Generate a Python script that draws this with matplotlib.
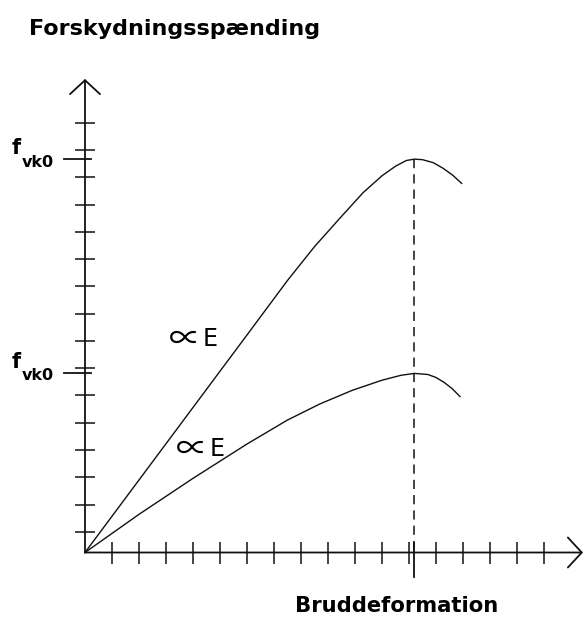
import numpy as np
import matplotlib
matplotlib.use("Agg")
import matplotlib.pyplot as plt

# Skematisk arbejdskurve: forskydningsspænding mod bruddeformation
strain_ticks = np.arange(1, 18)
stress_ticks = 0.76 + np.arange(16)

peak_strain = 12.2
f_vk0_high = 14.43
f_vk0_low = 6.59

upper_strain = [0, 2, 4, 6, 7.5, 8.5, 9.5, 10.3, 11.0, 11.5, 11.9, 12.2,
                12.5, 12.9, 13.27, 13.62, 13.95]
upper_stress = [0, 2.66, 5.32, 7.98, 9.98, 11.22, 12.33, 13.2, 13.82, 14.17,
                14.38, 14.43, 14.41, 14.3, 14.09, 13.84, 13.54]

lower_strain = [0, 2, 4, 6, 7.5, 8.7, 9.9, 11.0, 11.7, 12.2, 12.7, 13.0,
                13.3, 13.6, 13.89]
lower_stress = [0, 1.40, 2.72, 3.98, 4.86, 5.45, 5.95, 6.32, 6.50, 6.57,
                6.53, 6.42, 6.24, 6.01, 5.72]

W, H = 586, 618
fig = plt.figure(figsize=(W / 100, H / 100), dpi=100)
ax = fig.add_axes([0, 0, 1, 1])

# 1 enhed = en tickafstand (27 px vandret, 27.26 px lodret)
x0, y0 = 85, 552.5
ux, uy = 27.0, 27.26
ax.set_xlim(-x0 / ux, (W - x0) / ux)
ax.set_ylim(-(H - y0) / uy, y0 / uy)

for s in ax.spines.values():
    s.set_visible(False)
ax.spines["left"].set_position(("data", 0))
ax.spines["bottom"].set_position(("data", 0))

ax.set_xticks(strain_ticks)
ax.set_yticks(stress_ticks)
ax.tick_params(axis="x", direction="inout", length=16.5, width=1.1,
               color="#111111", labelbottom=False)
ax.tick_params(axis="y", direction="inout", length=14.4, width=1.1,
               color="#111111", labelleft=False)

# akser med åbne pilespidser
x_tip = (583 - x0) / ux
y_tip = (y0 - 79) / uy
arrow = dict(arrowstyle="->,head_length=1.0,head_width=1.08", lw=1.3,
             color="#111111", shrinkA=0, shrinkB=0, mutation_scale=10)
ax.annotate("", xy=(x_tip, 0), xytext=(0, 0), arrowprops=arrow)
ax.annotate("", xy=(0, y_tip), xytext=(0, 0), arrowprops=arrow)

# kurver
ax.plot(upper_strain, upper_stress, color="#111111", lw=1.0)
ax.plot(lower_strain, lower_stress, color="#111111", lw=1.0)

# brudlinje
ax.plot([peak_strain, peak_strain], [f_vk0_high, 0], color="#111111",
        lw=1.1, dashes=(6, 4))
ax.plot([peak_strain, peak_strain], [0.35, -0.9], color="#111111", lw=1.3)

# lange mærker for f_vk0
for f in (f_vk0_high, f_vk0_low):
    ax.plot([-0.78, 0.22], [f, f], color="#111111", lw=1.3)
    ax.text(-2.72, f + 5 / uy, "f", fontsize=15, fontweight="bold",
            ha="left", va="baseline")
    ax.text(-2.33, f - 7.5 / uy, "vk0", fontsize=11.5, fontweight="bold",
            ha="left", va="baseline")

# proportionalitet med E
for lx, ly in ((171, 346), (178, 456)):
    ax.text((lx - 2 - x0) / ux, (y0 - ly - 3) / uy, "\u221d", fontsize=23,
            family=["Noto Sans CJK JP", "DejaVu Sans"],
            ha="left", va="baseline")
    ax.text((lx + 32 - x0) / ux, (y0 - ly) / uy, "E", fontsize=17,
            ha="left", va="baseline")

fig.text(29 / W, 1 - 35 / H, "Forskydningsspænding", fontsize=16,
         fontweight="bold", ha="left", va="baseline")
fig.text(295 / W, 1 - 612 / H, "Bruddeformation", fontsize=15.2,
         fontweight="bold", ha="left", va="baseline")

fig.savefig("out.png", dpi=100)
